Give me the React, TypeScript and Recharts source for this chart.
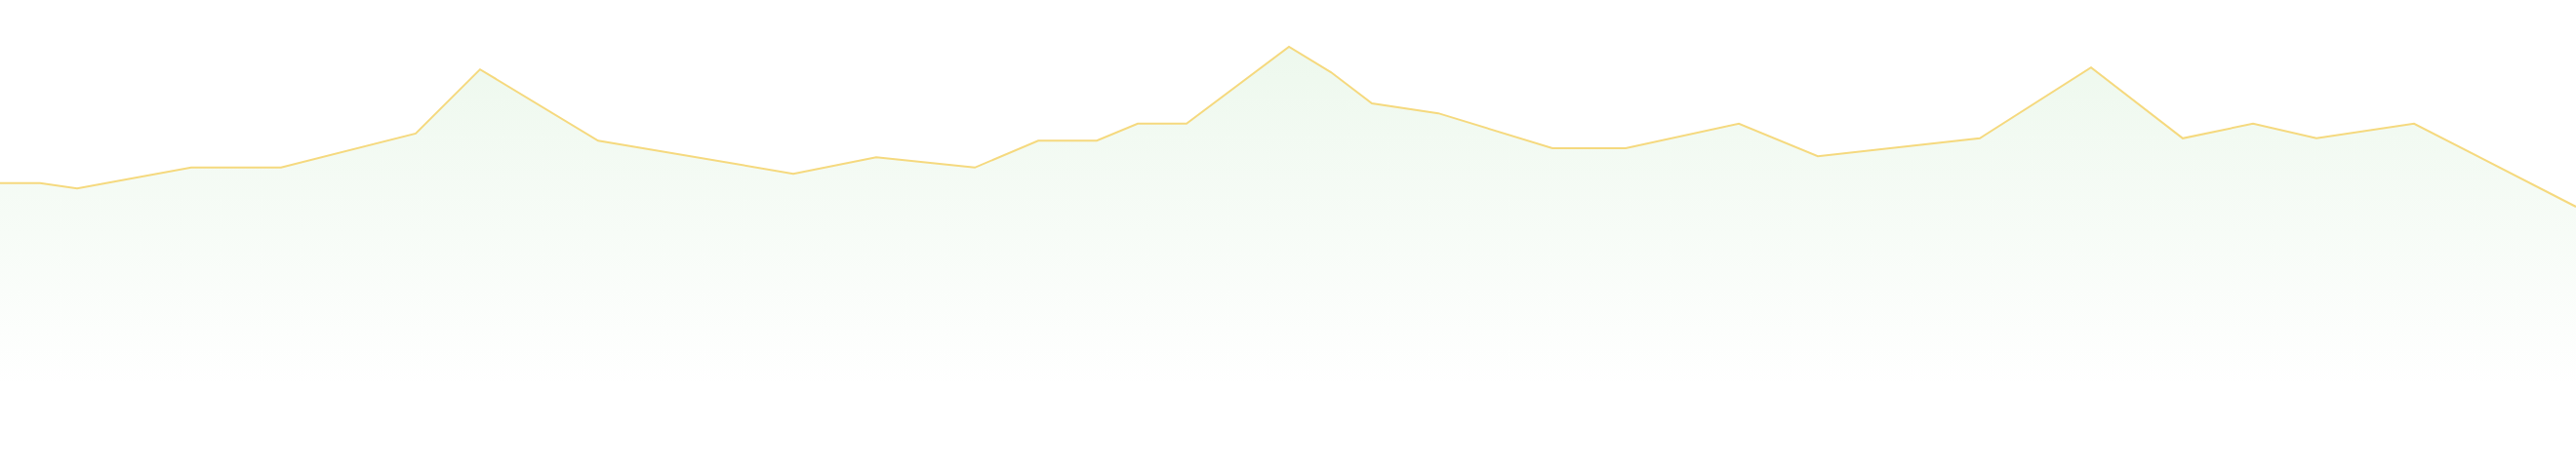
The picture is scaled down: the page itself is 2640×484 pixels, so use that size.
import { AreaChart, Area, XAxis, YAxis } from "recharts";

// time position of each reading (arbitrary units, 0-264)
const times = [
  0, 4.1, 7.9, 19.6, 28.8, 42.6, 49.2, 61.3, 81.3, 89.8, 99.9, 106.4, 112.4,
  116.6, 121.6, 132.1, 136.4, 140.6, 147.4, 159.1, 166.6, 178.2, 186.3, 202.9,
  214.3, 223.7, 230.9, 237.4, 247.4, 264,
];

const values = [
  61.2, 61.2, 60.1, 64.5, 64.5, 71.7, 85.3, 70.2, 63.2, 66.7, 64.5, 70.2, 70.2,
  73.8, 73.8, 90.1, 84.7, 78.1, 76.0, 68.6, 68.6, 73.8, 66.9, 70.7, 85.7, 70.7,
  73.8, 70.7, 73.8, 56.2,
];

const data = times.map((t, i) => ({ t, v: values[i] }));

const App = () => {
  return (
    <div style={{ position: "absolute", left: 0, top: 0, background: "#fff" }}>
      <AreaChart
        width={2640}
        height={484}
        data={data}
        margin={{ top: 0, right: 0, bottom: 0, left: 0 }}
      >
        <defs>
          <linearGradient id="fillGreen" x1="0" y1="0" x2="0" y2="1">
            <stop offset="0%" stopColor="#6cc76c" stopOpacity={0.12} />
            <stop offset="80%" stopColor="#6cc76c" stopOpacity={0} />
          </linearGradient>
        </defs>

        <XAxis type="number" dataKey="t" domain={[0, 264]} hide />

        <YAxis type="number" domain={[0, 100]} hide />

        <Area
          type="linear"
          dataKey="v"
          stroke="#f5d97e"
          strokeWidth={2}
          fill="url(#fillGreen)"
          fillOpacity={1}
          dot={false}
          activeDot={false}
          isAnimationActive={false}
        />
      </AreaChart>
    </div>
  );
};

export default App;
